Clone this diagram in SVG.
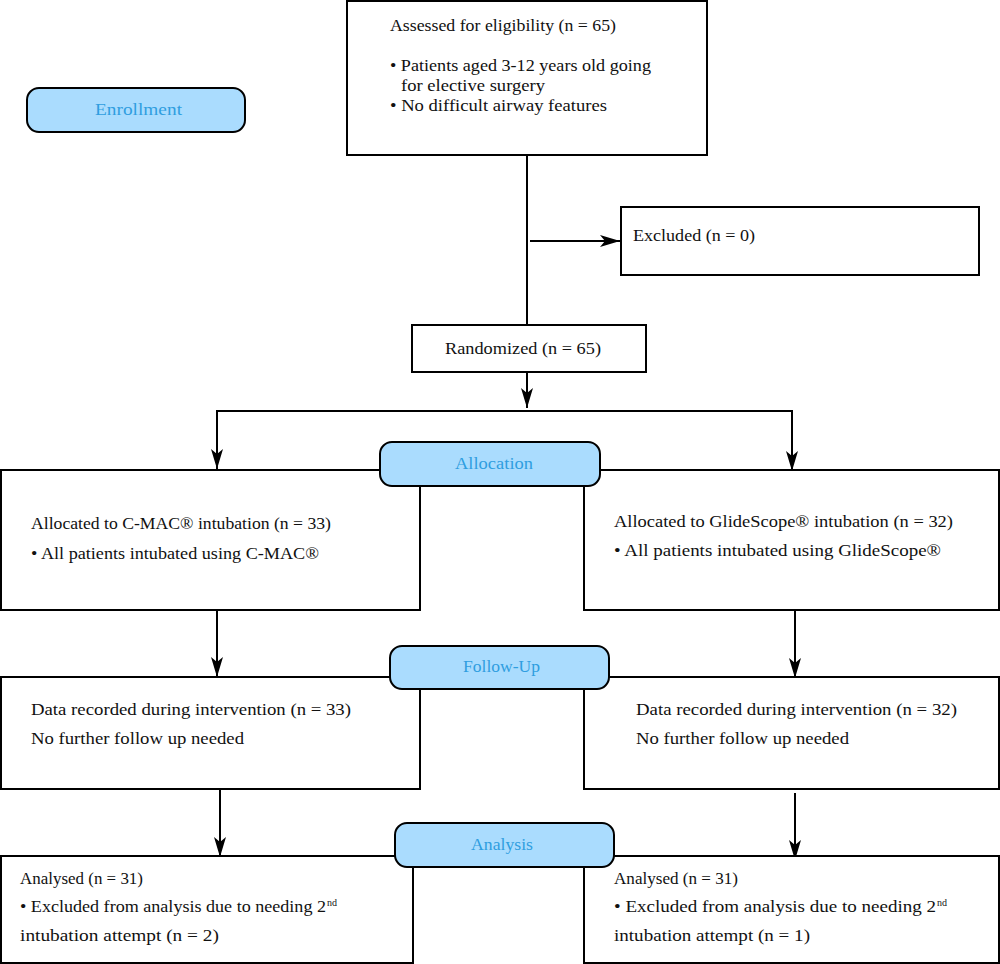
<svg xmlns="http://www.w3.org/2000/svg" width="1000" height="964" viewBox="0 0 1000 964">
<defs>
<marker id="arr" viewBox="0 0 20 12" refX="20" refY="6" markerWidth="20" markerHeight="12" markerUnits="userSpaceOnUse" orient="auto">
<path d="M0,0 L20,6 L0,12 L5,6 Z" fill="#000"/>
</marker>
</defs>
<style>
.box{fill:#fff;stroke:#000;stroke-width:2}
.stage{fill:#aadcfe;stroke:#000;stroke-width:2}
.t{font-family:"Liberation Serif","Times New Roman",serif;font-size:17px;fill:#111}
.st{font-family:"Liberation Serif","Times New Roman",serif;font-size:17px;fill:#2f9ee0}
.sup{font-family:"Liberation Serif","Times New Roman",serif;font-size:10px;fill:#111}
.ln{fill:none;stroke:#000;stroke-width:2}
</style>
<rect width="1000" height="964" fill="#fff"/>
<g id="connectors">
<line class="ln" x1="527" y1="155" x2="527" y2="325"/>
<line class="ln" x1="530" y1="241" x2="620" y2="241" marker-end="url(#arr)"/>
<line class="ln" x1="527" y1="372" x2="527" y2="408" marker-end="url(#arr)"/>
<polyline class="ln" points="217,460 217,411 792,411 792,460"/>
<line class="ln" x1="217" y1="450" x2="217" y2="469" marker-end="url(#arr)"/>
<line class="ln" x1="792" y1="450" x2="792" y2="471" marker-end="url(#arr)"/>
<line class="ln" x1="217" y1="610" x2="217" y2="677" marker-end="url(#arr)"/>
<line class="ln" x1="795" y1="610" x2="795" y2="678" marker-end="url(#arr)"/>
<line class="ln" x1="220" y1="789" x2="220" y2="857" marker-end="url(#arr)"/>
<line class="ln" x1="795" y1="793" x2="795" y2="860" marker-end="url(#arr)"/>
</g>
<g id="enrollment">
<rect class="stage" x="27" y="88" width="218" height="44" rx="12"/>
<text class="st" x="95" y="115" textLength="87" lengthAdjust="spacingAndGlyphs">Enrollment</text>
</g>
<g id="assessed">
<rect class="box" x="347" y="1" width="360" height="154"/>
<text class="t" x="390" y="31" textLength="226" lengthAdjust="spacingAndGlyphs">Assessed for eligibility (n = 65)</text>
<text class="t" x="390" y="71" textLength="261" lengthAdjust="spacingAndGlyphs">• Patients aged 3-12 years old going</text>
<text class="t" x="401" y="91" textLength="144" lengthAdjust="spacingAndGlyphs">for elective surgery</text>
<text class="t" x="390" y="111" textLength="217" lengthAdjust="spacingAndGlyphs">• No difficult airway features</text>
</g>
<g id="excluded">
<rect class="box" x="621" y="207" width="358" height="68"/>
<text class="t" x="633" y="241" textLength="122" lengthAdjust="spacingAndGlyphs">Excluded (n = 0)</text>
</g>
<g id="randomized">
<rect class="box" x="412" y="325" width="234" height="47"/>
<text class="t" x="445" y="354" textLength="156" lengthAdjust="spacingAndGlyphs">Randomized (n = 65)</text>
</g>
<g id="alloc-left">
<rect class="box" x="1" y="470" width="419" height="140"/>
<text class="t" x="31" y="529" textLength="300" lengthAdjust="spacingAndGlyphs">Allocated to C-MAC® intubation (n = 33)</text>
<text class="t" x="31" y="559" textLength="288" lengthAdjust="spacingAndGlyphs">• All patients intubated using C-MAC®</text>
</g>
<g id="alloc-right">
<rect class="box" x="584" y="470" width="415" height="140"/>
<text class="t" x="614" y="527" textLength="339" lengthAdjust="spacingAndGlyphs">Allocated to GlideScope® intubation (n = 32)</text>
<text class="t" x="614" y="556" textLength="327" lengthAdjust="spacingAndGlyphs">• All patients intubated using GlideScope®</text>
</g>
<g id="allocation">
<rect class="stage" x="380" y="442" width="220" height="44" rx="12"/>
<text class="st" x="455" y="469" textLength="78" lengthAdjust="spacingAndGlyphs">Allocation</text>
</g>
<g id="follow-left">
<rect class="box" x="1" y="677" width="419" height="112"/>
<text class="t" x="31" y="715" textLength="320" lengthAdjust="spacingAndGlyphs">Data recorded during intervention (n = 33)</text>
<text class="t" x="31" y="744" textLength="213" lengthAdjust="spacingAndGlyphs">No further follow up needed</text>
</g>
<g id="follow-right">
<rect class="box" x="584" y="677" width="415" height="112"/>
<text class="t" x="636" y="715" textLength="321" lengthAdjust="spacingAndGlyphs">Data recorded during intervention (n = 32)</text>
<text class="t" x="636" y="744" textLength="213" lengthAdjust="spacingAndGlyphs">No further follow up needed</text>
</g>
<g id="followup">
<rect class="stage" x="390" y="646" width="219" height="43" rx="12"/>
<text class="st" x="463" y="672" textLength="77" lengthAdjust="spacingAndGlyphs">Follow-Up</text>
</g>
<g id="analysis-left">
<rect class="box" x="1" y="856" width="412" height="107"/>
<text class="t" x="20" y="884" textLength="123" lengthAdjust="spacingAndGlyphs">Analysed (n = 31)</text>
<text class="t" x="20" y="912" textLength="306" lengthAdjust="spacingAndGlyphs">• Excluded from analysis due to needing 2</text>
<text class="sup" x="327" y="906">nd</text>
<text class="t" x="20" y="941" textLength="199" lengthAdjust="spacingAndGlyphs">intubation attempt (n = 2)</text>
</g>
<g id="analysis-right">
<rect class="box" x="584" y="856" width="415" height="107"/>
<text class="t" x="614" y="884" textLength="124" lengthAdjust="spacingAndGlyphs">Analysed (n = 31)</text>
<text class="t" x="614" y="912" textLength="322" lengthAdjust="spacingAndGlyphs">• Excluded from analysis due to needing  2</text>
<text class="sup" x="937" y="906">nd</text>
<text class="t" x="614" y="941" textLength="196" lengthAdjust="spacingAndGlyphs">intubation attempt (n = 1)</text>
</g>
<g id="analysis">
<rect class="stage" x="395" y="823" width="219" height="44" rx="12"/>
<text class="st" x="471" y="850" textLength="62" lengthAdjust="spacingAndGlyphs">Analysis</text>
</g>
</svg>
